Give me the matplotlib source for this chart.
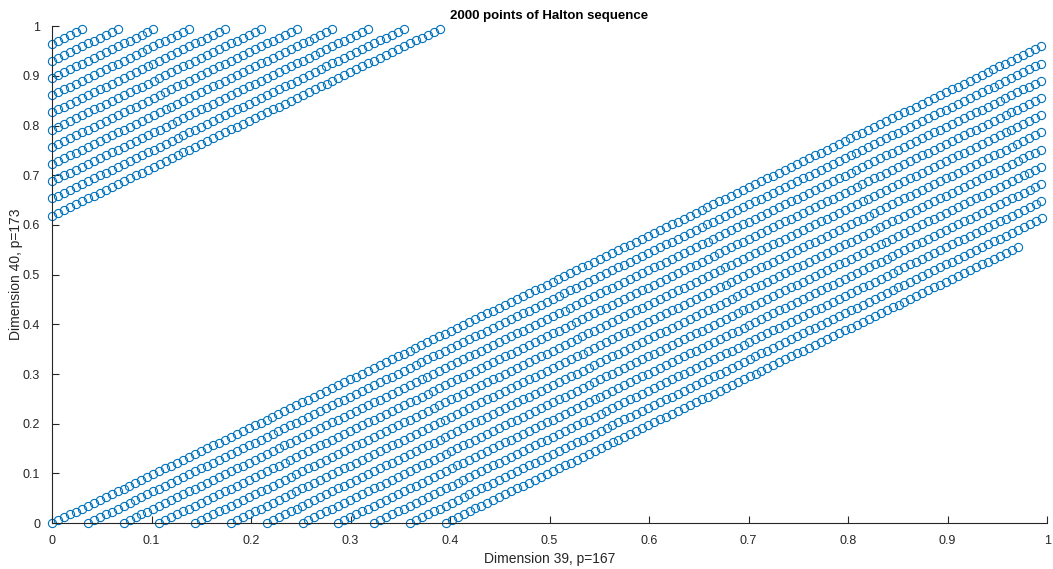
import numpy as np
import matplotlib
matplotlib.use("Agg")
import matplotlib.pyplot as plt

plt.rcParams['font.family'] = ['Liberation Sans', 'DejaVu Sans']

# Halton sequence parameters (dimensions 39 and 40)
n_points = 2000
dims = [39, 40]
primes = [167, 173]


def radical_inverse(idx, base):
    out = np.zeros(len(idx))
    f = 1.0 / base
    k = idx.copy()
    while np.any(k > 0):
        out += f * (k % base)
        k //= base
        f /= base
    return out


idx = np.arange(n_points)
x = radical_inverse(idx, primes[0])
y = radical_inverse(idx, primes[1])

fig = plt.figure(figsize=(10.53, 5.69), dpi=100)
ax = fig.add_axes([0.0494, 0.0808, 0.945, 0.873])

ax.plot(x, y, 'o', mfc='none', mec=(0, 0.447, 0.741), ms=5.9, mew=0.8, clip_on=False)

ax.set_xlim(0, 1)
ax.set_ylim(0, 1)
ticks = np.round(np.arange(0, 1.01, 0.1), 1)
ax.set_xticks(ticks)
ax.set_yticks(ticks)
ax.set_xticklabels([f"{t:g}" for t in ticks])
ax.set_yticklabels([f"{t:g}" for t in ticks])

dark = (0.15, 0.15, 0.15)
for side in ['top', 'right']:
    ax.spines[side].set_visible(False)
for side in ['left', 'bottom']:
    ax.spines[side].set_color(dark)
    ax.spines[side].set_linewidth(0.8)
ax.tick_params(direction='in', length=5, width=0.8, colors=dark, labelsize=9)
ax.tick_params(axis='x', pad=8.5)
ax.tick_params(axis='y', pad=8.5)

ax.set_xlabel(f"Dimension {dims[0]}, p={primes[0]}", fontsize=10, color=dark)
ax.set_ylabel(f"Dimension {dims[1]}, p={primes[1]}", fontsize=10, color=dark)
ax.xaxis.set_label_coords(0.5, -0.058)
ax.yaxis.set_label_coords(-0.029, 0.5)
ax.set_title(f"{n_points} points of Halton sequence", fontsize=9.5, fontweight='bold', pad=5)

fig.savefig("out.png", dpi=100)
